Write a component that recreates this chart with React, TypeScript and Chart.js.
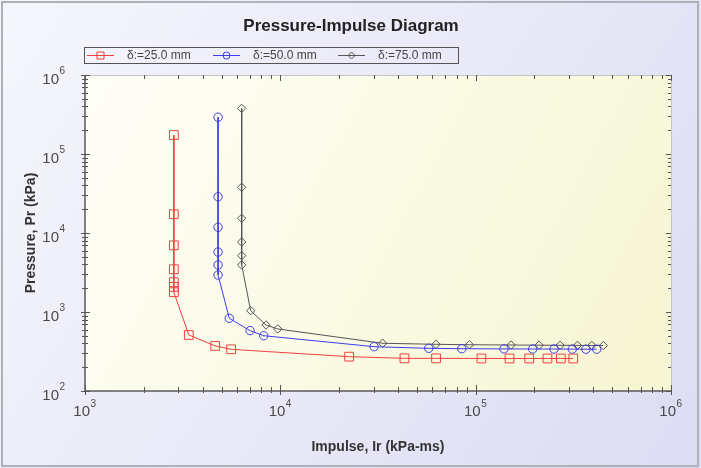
import React, { useEffect, useRef } from 'react';
import { Chart, registerables } from 'chart.js';
Chart.register(...registerables);

const chartTitle = 'Pressure-Impulse Diagram';
const xTitle = 'Impulse, Ir (kPa-ms)';
const yTitle = 'Pressure, Pr (kPa)';
const seriesLabels = ['δ:=25.0 mm', 'δ:=50.0 mm', 'δ:=75.0 mm'];
const xExponents = [3, 4, 5, 6];
const yExponents = [2, 3, 4, 5, 6];

const redImpulse = [2850, 2850, 2850, 2850, 2850, 2850, 2850, 3400, 4640, 5600, 22500, 43200, 62700, 107000, 149000, 188000, 233000, 273000, 316000];
const redPressure = [174000, 17300, 6980, 3480, 2380, 2080, 1780, 512, 372, 337, 272, 259, 259, 258, 258, 258, 258, 258, 258];

const blueImpulse = [4800, 4800, 4800, 4800, 4800, 4800, 5480, 7000, 8220, 30200, 57500, 84900, 139700, 195900, 251800, 312400, 367000, 416500];
const bluePressure = [292000, 28800, 11800, 5740, 3940, 2940, 832, 581, 501, 364, 347, 343, 341, 340, 340, 339, 338, 338];

const blackImpulse = [6340, 6340, 6340, 6340, 6340, 6340, 7050, 8450, 9700, 33400, 62700, 92900, 151700, 211200, 270500, 331800, 393000, 450400];
const blackPressure = [378000, 37900, 15350, 7690, 5170, 3940, 1040, 684, 610, 402, 390, 385, 382, 380, 379, 378, 377, 376];

const colors = ['#f24040', '#3c3cf0', '#555555'];
const pointStyles = ['rect', 'circle', 'rectRot'];
const pointRadii = [6.2, 4.2, 4.2];

function toPoints(xs: number[], ys: number[]) {
  return xs.map((x, i) => ({ x, y: ys[i] }));
}

const decorPlugin = {
  id: 'decor',
  beforeDraw(chart: any) {
    const ctx = chart.ctx as CanvasRenderingContext2D;
    const W = chart.width, H = chart.height;
    const { left, top, right, bottom } = chart.chartArea;
    ctx.save();
    const g = ctx.createLinearGradient(0, 0, W, H);
    g.addColorStop(0, '#f6f6fd');
    g.addColorStop(1, '#dcdcf3');
    ctx.fillStyle = g;
    ctx.fillRect(0, 0, W, H);
    ctx.strokeStyle = '#b0b0b8';
    ctx.lineWidth = 2;
    ctx.strokeRect(2, 2, W - 5, H - 4);
    const pg = ctx.createLinearGradient(left, top, right, bottom);
    pg.addColorStop(0, '#fefef8');
    pg.addColorStop(1, '#f6f6d2');
    ctx.fillStyle = pg;
    ctx.fillRect(left, top, right - left, bottom - top);
    ctx.restore();
  },
  afterDatasetsDraw(chart: any) {
    const ctx = chart.ctx as CanvasRenderingContext2D;
    const { left, top, right, bottom } = chart.chartArea;
    const xs = chart.scales.x, ys = chart.scales.y;
    ctx.save();
    ctx.strokeStyle = '#c4c4c4';
    ctx.lineWidth = 1;
    ctx.beginPath();
    ctx.moveTo(left, top + 0.5);
    ctx.lineTo(right + 0.5, top + 0.5);
    ctx.lineTo(right + 0.5, bottom);
    ctx.stroke();
    ctx.strokeStyle = '#5a5a5a';
    ctx.lineWidth = 1.5;
    ctx.beginPath();
    ctx.moveTo(left, top);
    ctx.lineTo(left, bottom);
    ctx.lineTo(right, bottom);
    ctx.stroke();
    ctx.lineWidth = 1;
    ctx.strokeStyle = '#555';
    const xMaxE = xExponents[xExponents.length - 1];
    for (let e = xExponents[0]; e <= xMaxE; e++) {
      for (let m = 1; m <= 9; m++) {
        const v = m * Math.pow(10, e);
        if (v > Math.pow(10, xMaxE)) break;
        const px = Math.round(xs.getPixelForValue(v)) + 0.5;
        const major = m === 1;
        ctx.beginPath();
        ctx.moveTo(px, bottom + (major ? 4 : 2));
        ctx.lineTo(px, bottom - (major ? 6 : 4));
        ctx.moveTo(px, top);
        ctx.lineTo(px, top + (major ? 6 : 4));
        ctx.stroke();
      }
    }
    const yMaxE = yExponents[yExponents.length - 1];
    for (let e = yExponents[0]; e <= yMaxE; e++) {
      for (let m = 1; m <= 9; m++) {
        const v = m * Math.pow(10, e);
        if (v > Math.pow(10, yMaxE)) break;
        const py = Math.round(ys.getPixelForValue(v)) + 0.5;
        const major = m === 1;
        ctx.beginPath();
        ctx.moveTo(left - (major ? 4 : 3), py);
        ctx.lineTo(left + (major ? 5 : 3), py);
        ctx.moveTo(right, py);
        ctx.lineTo(right - (major ? 5 : 3), py);
        ctx.stroke();
      }
    }
    ctx.restore();
  },
  afterDraw(chart: any) {
    const ctx = chart.ctx as CanvasRenderingContext2D;
    const { left, top, right, bottom } = chart.chartArea;
    const xs = chart.scales.x, ys = chart.scales.y;
    ctx.save();
    ctx.fillStyle = '#4a4a4a';
    ctx.textBaseline = 'middle';
    xExponents.forEach((e) => {
      const px = xs.getPixelForValue(Math.pow(10, e));
      ctx.font = '15px "Liberation Sans", Arial, sans-serif';
      ctx.textAlign = 'right';
      ctx.fillText('10', px + 5, bottom + 21);
      ctx.font = '10px "Liberation Sans", Arial, sans-serif';
      ctx.textAlign = 'left';
      ctx.fillText(String(e), px + 5.5, bottom + 13);
    });
    yExponents.forEach((e) => {
      const py = ys.getPixelForValue(Math.pow(10, e));
      ctx.font = '15px "Liberation Sans", Arial, sans-serif';
      ctx.textAlign = 'right';
      ctx.fillText('10', left - 26, py + 4.5);
      ctx.font = '10px "Liberation Sans", Arial, sans-serif';
      ctx.textAlign = 'left';
      ctx.fillText(String(e), left - 25.5, py - 4);
    });
    ctx.fillStyle = '#222';
    ctx.font = 'bold 17px "Liberation Sans", Arial, sans-serif';
    ctx.textAlign = 'center';
    ctx.fillText(chartTitle, (left + right) / 2 - 27, 26);
    ctx.fillStyle = '#333';
    ctx.font = 'bold 14px "Liberation Sans", Arial, sans-serif';
    ctx.fillText(xTitle, (left + right) / 2, bottom + 56);
    ctx.save();
    ctx.translate(31, (top + bottom) / 2);
    ctx.rotate(-Math.PI / 2);
    ctx.fillText(yTitle, 0, 0);
    ctx.restore();
    // legend
    ctx.strokeStyle = '#555';
    ctx.lineWidth = 1;
    ctx.strokeRect(84.5, 47.5, 374, 16);
    const starts = [87, 213, 338];
    const ly = 55.5;
    seriesLabels.forEach((lab, i) => {
      const x0 = starts[i];
      ctx.strokeStyle = colors[i];
      ctx.lineWidth = 1;
      ctx.beginPath();
      ctx.moveTo(x0, ly);
      ctx.lineTo(x0 + 27, ly);
      ctx.stroke();
      const cx = x0 + 13.5;
      ctx.beginPath();
      if (i === 0) ctx.rect(cx - 3.5, ly - 3.5, 7, 7);
      else if (i === 1) ctx.arc(cx, ly, 3.5, 0, Math.PI * 2);
      else { ctx.moveTo(cx, ly - 3.5); ctx.lineTo(cx + 3.5, ly); ctx.lineTo(cx, ly + 3.5); ctx.lineTo(cx - 3.5, ly); ctx.closePath(); }
      ctx.stroke();
      ctx.fillStyle = '#444';
      ctx.font = '12px "Liberation Sans", Arial, sans-serif';
      ctx.textAlign = 'left';
      ctx.fillText(lab, x0 + 40, ly + 0.5);
    });
    ctx.restore();
  },
};

export default function App() {
  const ref = useRef<HTMLCanvasElement>(null);
  useEffect(() => {
    if (!ref.current) return;
    const series = [
      toPoints(redImpulse, redPressure),
      toPoints(blueImpulse, bluePressure),
      toPoints(blackImpulse, blackPressure),
    ];
    const chart = new Chart(ref.current, {
      type: 'scatter',
      data: {
        datasets: series.map((d, i) => ({
          label: seriesLabels[i],
          data: d,
          showLine: true,
          borderColor: colors[i],
          backgroundColor: 'rgba(0,0,0,0)',
          borderWidth: 1,
          pointStyle: pointStyles[i] as any,
          pointRadius: pointRadii[i],
          pointBorderColor: colors[i],
          pointBorderWidth: 1,
          pointBackgroundColor: 'rgba(0,0,0,0)',
          tension: 0,
        })),
      },
      options: {
        animation: false,
        responsive: false,
        devicePixelRatio: 1,
        layout: { padding: { left: 85, top: 75, right: 30, bottom: 77 } },
        plugins: { legend: { display: false }, title: { display: false }, tooltip: { enabled: false } },
        scales: {
          x: { type: 'logarithmic', min: 1000, max: 1000000, display: false },
          y: { type: 'logarithmic', min: 100, max: 1000000, display: false },
        },
      },
      plugins: [decorPlugin],
    } as any);
    return () => chart.destroy();
  }, []);
  return (
    <div style={{ position: 'fixed', left: 0, top: 0, width: 701, height: 468 }}>
      <canvas ref={ref} width={701} height={468} />
    </div>
  );
}
